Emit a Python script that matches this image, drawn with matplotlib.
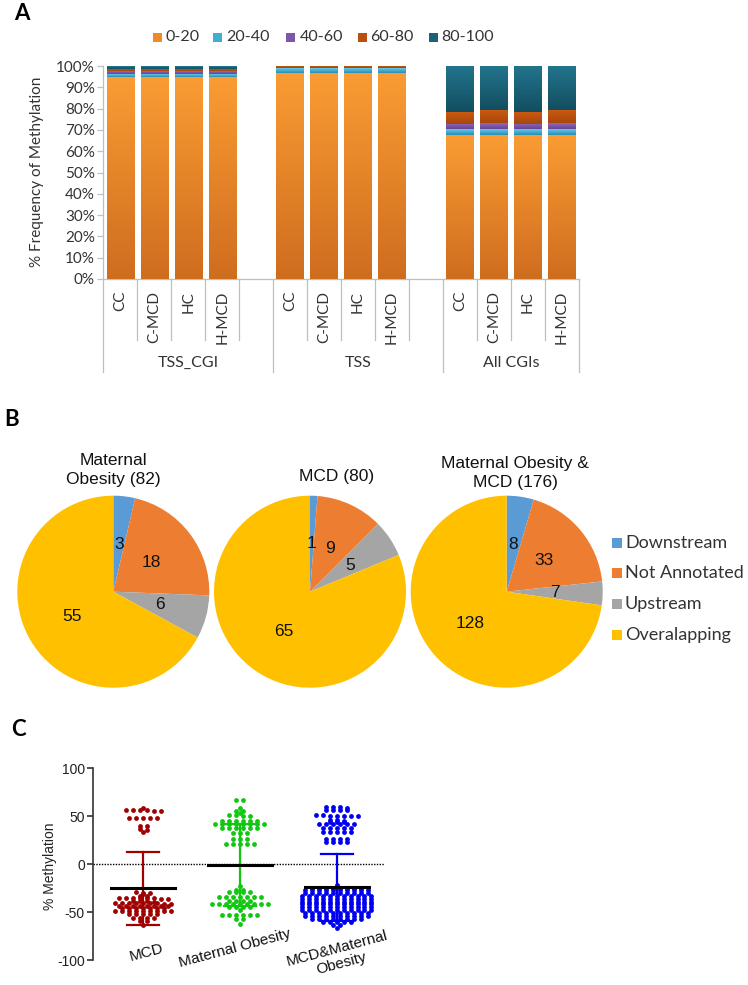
import numpy as np
import matplotlib
matplotlib.use('Agg')
import matplotlib.pyplot as plt
from matplotlib.colors import LinearSegmentedColormap
from matplotlib.patches import Rectangle
from matplotlib.transforms import blended_transform_factory

W, H = 748, 985
fig = plt.figure(figsize=(W / 100, H / 100), dpi=100)
fig.patch.set_facecolor('white')


def fx(p):
    return p / W


def fy(p):
    return 1 - p / H


CAL = ['Lato', 'DejaVu Sans']
ARI = ['Liberation Sans', 'DejaVu Sans']
TXT = '#333333'

# ---------------- Panel A data ----------------
groups = ['TSS_CGI', 'TSS', 'All CGIs']
samples = ['CC', 'C-MCD', 'HC', 'H-MCD']
bins = ['0-20', '20-40', '40-60', '60-80', '80-100']
pct_0_20 = [95.0, 95.0, 95.0, 95.0, 96.8, 96.8, 96.8, 96.8, 67.5, 67.5, 67.5, 67.5]
pct_20_40 = [1.4, 1.4, 1.4, 1.4, 2.2, 2.2, 2.2, 2.2, 2.8, 2.8, 2.8, 2.8]
pct_40_60 = [1.1, 1.1, 1.1, 1.1, 0.5, 0.5, 0.5, 0.5, 2.5, 2.8, 2.5, 2.8]
pct_60_80 = [1.25, 1.25, 1.25, 1.25, 0.3, 0.3, 0.3, 0.3, 5.5, 6.1, 5.5, 6.1]
pct_80_100 = [1.25, 1.25, 1.25, 1.25, 0.2, 0.2, 0.2, 0.2, 21.7, 20.8, 21.7, 20.8]

# ---------------- Panel B data ----------------
pie_titles = ['Maternal\nObesity (82)', 'MCD (80)', 'Maternal Obesity &\nMCD (176)']
pie_cats = ['Downstream', 'Not Annotated', 'Upstream', 'Overalapping']
mo_counts = [3, 18, 6, 55]
mcd_counts = [1, 9, 5, 65]
both_counts = [8, 33, 7, 128]

# ---------------- Panel C data ----------------
c_groups = ['MCD', 'Maternal Obesity', 'MCD&Maternal\nObesity']
c_means = [-25, -1, -24]
c_sds = [38, 43, 35]
mcd_vals = [59, 56.5, 56.5, 56, 56, 55, 55,
            48.5, 48.5, 48, 48, 48,
            40, 40, 37, 36, 34,
            -29, -30, -30, -31,
            -33, -33,
            -35, -35, -35, -35, -35, -35, -36, -36,
            -38, -38, -38, -39,
            -41, -41, -41, -41, -41, -41, -41, -42, -42,
            -43.5, -43.5, -43.5, -43.5, -43.5, -43.5, -43.5, -43.5,
            -46, -46, -46, -46, -46, -46, -46,
            -48.5, -48.5, -48.5, -48.5, -48.5, -48.5, -48.5, -48.5, -48.5,
            -52, -52, -52, -52, -52,
            -56, -56, -56, -56,
            -59, -59,
            -63]
mo_vals = [67, 67, 59, 55, 55, 53,
           51, 51, 50, 50,
           45, 45, 45, 45, 45, 45,
           42, 42, 42, 42, 42, 42, 42, 42,
           38, 38, 38, 38, 38, 38,
           33, 33, 33,
           26, 26, 26,
           21, 21, 21, 21, 21,
           -23, -27, -27,
           -29.5, -29.5, -29.5, -29.5,
           -34, -34, -34, -34, -34, -34, -34,
           -38, -38, -38, -38,
           -42, -42, -42, -42, -42, -42, -42, -42, -42,
           -45, -45, -45, -45,
           -48,
           -53, -53, -53, -53, -53, -53,
           -57, -57,
           -62]
both_vals = [60, 60, 59.5, 59,
             57, 57, 56.5, 56,
             51.5, 51, 50.5, 50, 50, 50, 50,
             46, 46, 45.5,
             44, 44, 43.5,
             41.5, 41.5, 41.5, 41.5, 41.5, 41.5,
             38, 38, 38, 38, 38,
             34, 34, 34, 34, 34,
             26, 26, 26, 26,
             23.5, 23.5, 23.5, 23.5,
             -22,
             -24.5, -24.5, -24.5, -24.5, -24.5, -24.5, -24.5, -24.5,
             -27, -27, -27, -27, -27, -27, -27, -27, -27, -27,
             -30, -30, -30, -30, -30, -30, -30, -30, -30, -30,
             -33, -33, -33, -33, -33, -33, -33, -33, -33, -33, -33,
             -36, -36, -36, -36, -36, -36, -36, -36, -36, -36, -36,
             -39, -39, -39, -39, -39, -39, -39, -39, -39, -39, -39,
             -42, -42, -42, -42, -42, -42, -42, -42, -42, -42, -42,
             -45, -45, -45, -45, -45, -45, -45, -45, -45, -45, -45,
             -48, -48, -48, -48, -48, -48, -48, -48, -48, -48, -48,
             -51, -51, -51, -51, -51, -51, -51, -51, -51, -51,
             -54, -54, -54, -54, -54, -54, -54, -54, -54, -54,
             -57, -57, -57, -57, -57, -57, -57, -57,
             -60, -60, -60, -60, -60,
             -63, -63,
             -67]

# ================= Panel A =================
axA = fig.add_axes([fx(103.3), fy(279), (578.7 - 103.3) / W, (279 - 66) / H])
pos = [g * 5 + s for g in range(len(groups)) for s in range(len(samples))]
series = [pct_0_20, pct_20_40, pct_40_60, pct_60_80, pct_80_100]
grad_top = ['#FA9C33', '#62C8E6', '#9069BA', '#C85A10', '#22758E']
grad_bot = ['#CF6D1F', '#2A8DB3', '#674392', '#A8460C', '#134E60']
mid_cols = ['#F08A28', '#40ADD3', '#7E57A8', '#BA500E', '#1B6277']
grad = np.linspace(0, 1, 64).reshape(-1, 1)
bottom = np.zeros(len(pos))
for k, vals in enumerate(series):
    cmap = LinearSegmentedColormap.from_list(f'g{k}', [grad_bot[k], grad_top[k]])
    bars = axA.bar(pos, vals, 0.8, bottom=bottom, color=mid_cols[k], zorder=2, linewidth=0)
    for p in bars:
        x0, y0, w, h = p.get_x(), p.get_y(), p.get_width(), p.get_height()
        im = axA.imshow(grad, extent=[x0, x0 + w, y0, y0 + h], origin='lower', cmap=cmap,
                        aspect='auto', interpolation='bilinear', zorder=3)
        im.set_clip_path(p)
    bottom = bottom + np.asarray(vals)

axA.set_xlim(-0.5, 13.5)
axA.set_ylim(0, 100)
axA.set_yticks(np.arange(0, 101, 10))
axA.set_yticklabels([f'{t}%' for t in range(0, 101, 10)], fontsize=11, family=CAL, color=TXT)
axA.set_xticks([])
for s in ['top', 'right']:
    axA.spines[s].set_visible(False)
for s in ['left', 'bottom']:
    axA.spines[s].set_color('#BFBFBF')
    axA.spines[s].set_linewidth(0.9)
axA.tick_params(axis='y', color='#BFBFBF', length=4, width=0.9, pad=2)

trA = blended_transform_factory(axA.transData, axA.transAxes)
long_b = [-0.5, 4.5, 9.5, 13.5]
for b in np.arange(-0.5, 13.6, 1.0):
    yl = -0.437 if any(abs(b - lb) < 1e-6 for lb in long_b) else -0.286
    axA.plot([b, b], [0, yl], transform=trA, clip_on=False, color='#BFBFBF', lw=0.9)
for i, x in enumerate(pos):
    axA.text(x, -0.056, samples[i % 4], rotation=90, ha='center', va='top', transform=trA,
             fontsize=11, family=CAL, color=TXT)
for g, name in enumerate(groups):
    lo = g * 5 - 0.5
    hi = min(g * 5 + 4.5, 13.5)
    axA.text((lo + hi) / 2, -0.394, name, ha='center', va='center', transform=trA,
             fontsize=11.5, family=CAL, color=TXT)

fig.text(fx(37.5), fy(171.7), '% Frequency of Methylation', rotation=90, ha='center', va='center',
         fontsize=11, family=CAL, color=TXT)

leg_x = [153, 213.3, 286.4, 357.6, 428.6]
for k, lab in enumerate(bins):
    fig.add_artist(Rectangle((fx(leg_x[k]), fy(37 + 4.5)), 9 / W, 9 / H, transform=fig.transFigure,
                             facecolor=mid_cols[k], edgecolor='none'))
    fig.text(fx(leg_x[k] + 13), fy(37), lab, ha='left', va='center', fontsize=11.5, family=CAL, color=TXT)

# ================= Panel B =================
pie_colors = ['#5B9BD5', '#ED7D31', '#A5A5A5', '#FFC000']
pie_data = [mo_counts, mcd_counts, both_counts]
pie_cx = [113.3, 310, 506.7]
pie_cy = 591.7
R = 96
title_pos = [(113.3, 470), (336.5, 476.7), (515, 472.8)]


def make_fmt(vals):
    total = sum(vals)
    return lambda p: f'{int(round(p * total / 100))}'


for i, vals in enumerate(pie_data):
    cx = pie_cx[i]
    ax = fig.add_axes([fx(cx - R), fy(pie_cy + R), 2 * R / W, 2 * R / H])
    ax.pie(vals, colors=pie_colors, startangle=90, counterclock=False, radius=1,
           autopct=make_fmt(vals), pctdistance=0.5,
           textprops=dict(fontsize=12.5, family=ARI, color='#111111'),
           wedgeprops=dict(linewidth=0))
    ax.set_xlim(-1, 1)
    ax.set_ylim(-1, 1)
    ax.set_aspect('equal')
    ax.axis('off')
    tx, ty = title_pos[i]
    fig.text(fx(tx), fy(ty), pie_titles[i], ha='center', va='center', fontsize=12.5,
             family=ARI, color='#111111', linespacing=1.3)

leg_rows = [542.7, 573.3, 604.3, 635]
for k, lab in enumerate(pie_cats):
    fig.add_artist(Rectangle((fx(611.7), fy(leg_rows[k] + 5)), 10 / W, 10 / H, transform=fig.transFigure,
                             facecolor=pie_colors[k], edgecolor='none'))
    fig.text(fx(625), fy(leg_rows[k]), lab, ha='left', va='center', fontsize=13, family=CAL, color=TXT)

# ================= Panel C =================
axC = fig.add_axes([fx(93.3), fy(960), (385 - 93.3) / W, (960 - 768.3) / H])
c_colors = ['#A00000', '#10C810', '#0000F0']
c_data = [mcd_vals, mo_vals, both_vals]


def swarm(vals, tol=1.5, dx=0.072):
    v = np.sort(np.asarray(vals, float))[::-1]
    xs = np.empty_like(v)
    i = 0
    while i < len(v):
        j = i
        while j < len(v) and v[i] - v[j] <= tol:
            j += 1
        n = j - i
        xs[i:j] = (np.arange(n) - (n - 1) / 2) * dx
        i = j
    return xs, v


axC.axhline(0, color='black', lw=1.0, ls=(0, (1, 1)), zorder=1)
for i, vals in enumerate(c_data):
    xs, ys = swarm(vals)
    axC.scatter(i + xs, ys, s=12, color=c_colors[i], linewidths=0, zorder=2)
    m, sd = c_means[i], c_sds[i]
    axC.plot([i, i], [m - sd, m + sd], color=c_colors[i], lw=1.6, zorder=3)
    axC.plot([i - 0.165, i + 0.165], [m + sd, m + sd], color=c_colors[i], lw=1.6, zorder=3)
    axC.plot([i - 0.165, i + 0.165], [m - sd, m - sd], color=c_colors[i], lw=1.6, zorder=3)
    axC.plot([i - 0.33, i + 0.33], [m, m], color='black', lw=2.2, zorder=4)

axC.set_xlim(-0.515, 2.5)
axC.set_ylim(-100, 100)
axC.set_xticks([])
axC.set_yticks([-100, -50, 0, 50, 100])
axC.set_yticklabels(['-100', '-50', '0', '50', '100'], fontsize=10, family=ARI, color='#222222')
for s in ['top', 'right', 'bottom']:
    axC.spines[s].set_visible(False)
axC.spines['left'].set_color('#333333')
axC.spines['left'].set_linewidth(1.2)
axC.tick_params(axis='y', color='#333333', length=4, width=1.2, pad=2)

c_lab_pos = [(0.03, -92), (0.95, -88), (2.03, -96)]
for i, lab in enumerate(c_groups):
    x, y = c_lab_pos[i]
    axC.text(x, y, lab, rotation=15, ha='center', va='center', fontsize=11, family=ARI,
             color='#111111', clip_on=False, multialignment='center', linespacing=1.1)

fig.text(fx(50), fy(866.7), '% Methylation', rotation=90, ha='center', va='center',
         fontsize=10, family=ARI, color='#222222')

# panel letters
fig.text(fx(22), fy(14), 'A', fontsize=16, weight='bold', family=CAL, ha='center', va='center')
fig.text(fx(12), fy(420), 'B', fontsize=16, weight='bold', family=CAL, ha='center', va='center')
fig.text(fx(18), fy(730), 'C', fontsize=16, weight='bold', family=CAL, ha='center', va='center')

fig.savefig('out.png', dpi=100, facecolor='white')
